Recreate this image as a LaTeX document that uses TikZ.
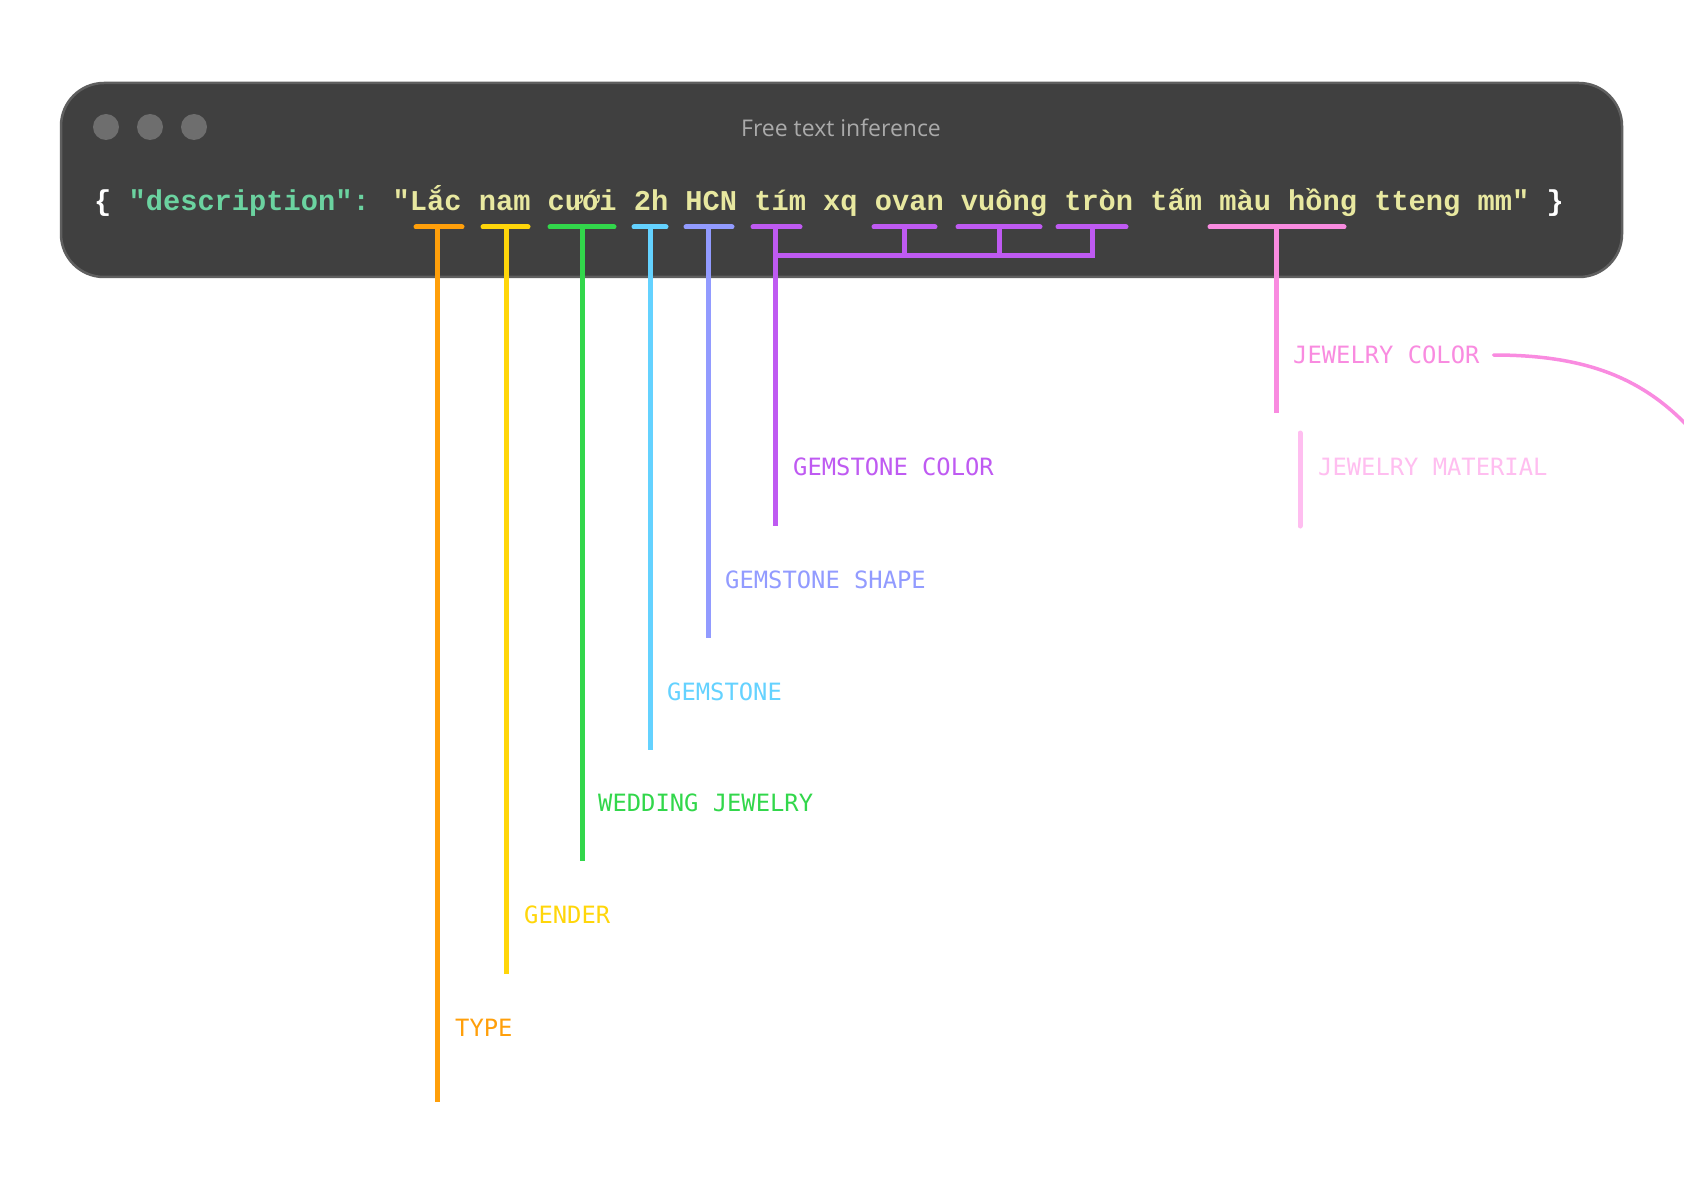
\documentclass[tikz,border=0pt]{standalone}
\usepackage{fontspec}
\setmainfont{Open Sans}
\newfontfamily\codefont{DejaVu Sans Mono}
\newfontfamily\vnmono{Liberation Mono}
\begin{document}
\begin{tikzpicture}[x=1pt,y=-1pt,
  bar/.style={line width=5pt,line cap=round},
  lab/.style={anchor=west,inner sep=0pt,font=\codefont\fontsize{23.8}{23.8}\selectfont},
  cO/.style={color={rgb,255:red,255;green,159;blue,10}},
  cY/.style={color={rgb,255:red,255;green,214;blue,10}},
  cG/.style={color={rgb,255:red,50;green,215;blue,75}},
  cC/.style={color={rgb,255:red,100;green,210;blue,255}},
  cB/.style={color={rgb,255:red,146;green,155;blue,255}},
  cP/.style={color={rgb,255:red,191;green,90;blue,242}},
  cK/.style={color={rgb,255:red,249;green,139;blue,224}},
  cL/.style={color={rgb,255:red,255;green,190;blue,240}}]
\useasboundingbox (0,0) rectangle (1684,1190);
\fill[white] (0,0) rectangle (1684,1190);
\draw[line width=2.5pt,draw={rgb,255:red,95;green,95;blue,95},fill={rgb,255:red,64;green,64;blue,64},rounded corners=43pt] (61,83) rectangle (1622,277);
\foreach \x/\n in {106/d1,150/d2,194/d3}
  \fill[color={rgb,255:red,110;green,110;blue,110}] (\x,127) circle (13) coordinate (\n);
\node[font=\fontsize{23}{23}\selectfont,text={rgb,255:red,170;green,170;blue,170}] (title) at (841,128) {Free text inference};
\node[anchor=west,inner sep=0pt,font=\vnmono\bfseries\fontsize{28.7}{28.7}\selectfont] (code) at (94,201)
 {\textcolor{white}{\{ }\textcolor[RGB]{107,211,160}{"description"}\textcolor[RGB]{107,211,160}{:} \textcolor[RGB]{232,232,160}{"Lắc nam cưới 2h HCN tím xq ovan vuông tròn tấm màu hồng tteng mm"} \textcolor{white}{\}}};
% underlines
\draw[bar,cO] (416,227) -- (462,227);
\draw[bar,cY] (483,227) -- (528,227);
\draw[bar,cG] (550,227) -- (614,227);
\draw[bar,cC] (634,227) -- (666,227);
\draw[bar,cB] (686,227) -- (732,227);
\draw[bar,cP] (753,227) -- (800,227);
\draw[bar,cP] (874,227) -- (935,227);
\draw[bar,cP] (958,227) -- (1040,227);
\draw[bar,cP] (1058,227) -- (1126,227);
\draw[bar,cK] (1210,227) -- (1344,227);
% labels
\node[lab,cO] (type) at (455,1028) {TYPE};
\node[lab,cY] (gender) at (524,915) {GENDER};
\node[lab,cG] (wed) at (598,803) {WEDDING JEWELRY};
\node[lab,cC] (gem) at (667,692) {GEMSTONE};
\node[lab,cB] (shape) at (725,580) {GEMSTONE SHAPE};
\node[lab,cP] (gcol) at (793,467) {GEMSTONE COLOR};
\node[lab,cK] (jcol) at (1293,355) {JEWELRY COLOR};
\node[lab,cL] (jmat) at (1318,467) {JEWELRY MATERIAL};
% verticals
\draw[bar,line cap=butt,cO] (437,227) -- (437,1102);
\draw[bar,line cap=butt,cY] (506,227) -- (506,974);
\draw[bar,line cap=butt,cG] (582,227) -- (582,861);
\draw[bar,line cap=butt,cC] (650,227) -- (650,750);
\draw[bar,line cap=butt,cB] (708,227) -- (708,638);
\draw[line width=5pt,cP] (775,227) -- (775,526);
\draw[line width=5pt,cP,line join=miter] (904,227) -- (904,256) (999,227) -- (999,256) (1092,227) -- (1092,256) -- (775,256);
\draw[bar,line cap=butt,cK] (1276,227) -- (1276,413);
\draw[bar,cL] (1300,433) -- (1300,526);
\draw[line width=3.5pt,line cap=round,cK] (jcol.east)++(14,0) coordinate (c0) .. controls (1590,355) and (1650,380) .. (1700,440);
\end{tikzpicture}
\end{document}
